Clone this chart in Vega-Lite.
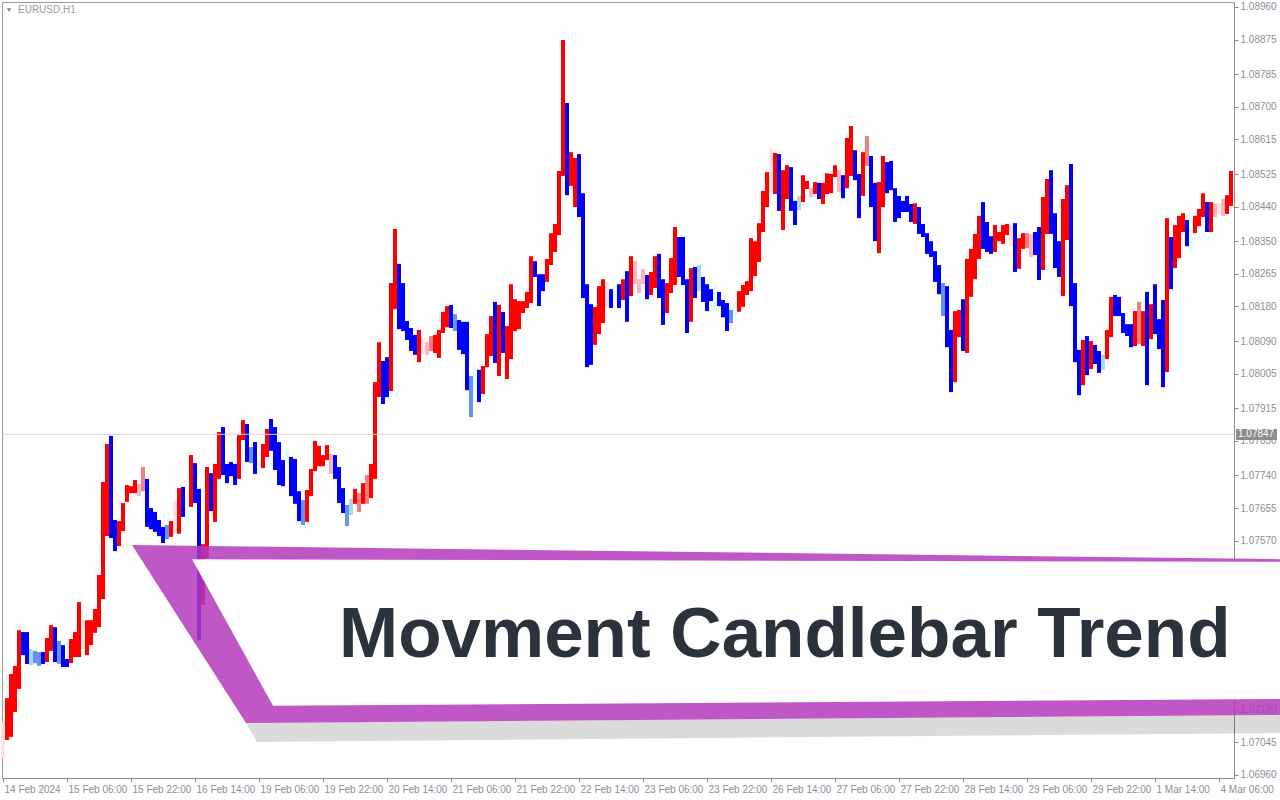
{
  "$schema": "https://vega.github.io/schema/vega-lite/v6.json",
  "width": 1232,
  "height": 776,
  "autosize": "none",
  "padding": {"left": 2, "top": 2, "right": 46, "bottom": 22},
  "background": "#ffffff",
  "resolve": {"axis": {"x": "independent", "y": "independent"}},
  "config": {
    "view": {"stroke": "#9a9a9a", "strokeWidth": 1},
    "axis": {
      "grid": false,
      "domainColor": "#8c8c8c",
      "tickColor": "#8c8c8c",
      "labelColor": "#8e8e9a",
      "labelFont": "Liberation Sans",
      "labelFontSize": 10,
      "tickSize": 4
    }
  },
  "datasets": {
    "bars": [
      {"k":0,"c":"up0","h":1.07098,"l":1.07004},{"k":1,"c":"up3","h":1.07160,"l":1.07051},{"k":2,"c":"up3","h":1.07223,"l":1.07059},{"k":3,"c":"up3","h":1.07244,"l":1.07124},{"k":4,"c":"up3","h":1.07337,"l":1.07184},
      {"k":5,"c":"dn3","h":1.07332,"l":1.07272},{"k":6,"c":"dn3","h":1.07332,"l":1.07249},{"k":7,"c":"dn1","h":1.07288,"l":1.07246},{"k":8,"c":"dn2","h":1.07283,"l":1.07251},{"k":9,"c":"dn2","h":1.07280,"l":1.07244},
      {"k":10,"c":"dn3","h":1.07280,"l":1.07249},{"k":11,"c":"up3","h":1.07317,"l":1.07254},{"k":12,"c":"up3","h":1.07350,"l":1.07283},{"k":13,"c":"dn3","h":1.07345,"l":1.07254},{"k":14,"c":"dn2","h":1.07309,"l":1.07249},
      {"k":15,"c":"dn3","h":1.07298,"l":1.07241},{"k":16,"c":"dn3","h":1.07262,"l":1.07241},{"k":17,"c":"up3","h":1.07314,"l":1.07251},{"k":18,"c":"up3","h":1.07332,"l":1.07267},{"k":19,"c":"up3","h":1.07410,"l":1.07267},
      {"k":20,"c":"up0","h":1.07369,"l":1.07288},{"k":21,"c":"up3","h":1.07363,"l":1.07272},{"k":22,"c":"up3","h":1.07363,"l":1.07298},{"k":23,"c":"up3","h":1.07392,"l":1.07330},{"k":24,"c":"up3","h":1.07481,"l":1.07345},
      {"k":25,"c":"up3","h":1.07723,"l":1.07418},{"k":26,"c":"up3","h":1.07822,"l":1.07582},{"k":27,"c":"dn3","h":1.07843,"l":1.07577},{"k":28,"c":"dn3","h":1.07624,"l":1.07543},{"k":29,"c":"up3","h":1.07621,"l":1.07556},
      {"k":30,"c":"up3","h":1.07668,"l":1.07595},{"k":31,"c":"up3","h":1.07715,"l":1.07671},{"k":32,"c":"up3","h":1.07712,"l":1.07694},{"k":33,"c":"up3","h":1.07728,"l":1.07694},{"k":34,"c":"up1","h":1.07718,"l":1.07686},
      {"k":35,"c":"up2","h":1.07762,"l":1.07699},{"k":36,"c":"dn3","h":1.07731,"l":1.07606},{"k":37,"c":"dn3","h":1.07655,"l":1.07600},{"k":38,"c":"dn3","h":1.07645,"l":1.07593},{"k":39,"c":"dn3","h":1.07624,"l":1.07582},
      {"k":40,"c":"dn3","h":1.07606,"l":1.07564},{"k":41,"c":"dn2","h":1.07611,"l":1.07574},{"k":42,"c":"up3","h":1.07621,"l":1.07580},{"k":43,"c":"up0","h":1.07673,"l":1.07590},{"k":44,"c":"up3","h":1.07707,"l":1.07588},
      {"k":45,"c":"dn3","h":1.07710,"l":1.07632},{"k":46,"c":"dn0","h":1.07686,"l":1.07616},{"k":47,"c":"up3","h":1.07793,"l":1.07658},{"k":48,"c":"dn3","h":1.07772,"l":1.07668},{"k":49,"c":"dn3","h":1.07705,"l":1.07311},
      {"k":50,"c":"up3","h":1.07561,"l":1.07403},{"k":51,"c":"up3","h":1.07762,"l":1.07525},{"k":52,"c":"dn3","h":1.07746,"l":1.07647},{"k":53,"c":"up3","h":1.07770,"l":1.07619},{"k":54,"c":"up3","h":1.07853,"l":1.07731},
      {"k":55,"c":"dn3","h":1.07866,"l":1.07741},{"k":56,"c":"dn3","h":1.07770,"l":1.07720},{"k":57,"c":"dn3","h":1.07775,"l":1.07738},{"k":58,"c":"dn3","h":1.07770,"l":1.07715},{"k":59,"c":"up3","h":1.07845,"l":1.07731},
      {"k":60,"c":"up3","h":1.07884,"l":1.07832},{"k":61,"c":"dn3","h":1.07874,"l":1.07775},{"k":62,"c":"dn2","h":1.07814,"l":1.07772},{"k":63,"c":"dn3","h":1.07827,"l":1.07744},{"k":64,"c":"dn0","h":1.07759,"l":1.07741},
      {"k":65,"c":"up3","h":1.07822,"l":1.07759},{"k":66,"c":"up3","h":1.07861,"l":1.07788},{"k":67,"c":"dn3","h":1.07887,"l":1.07804},{"k":68,"c":"dn3","h":1.07866,"l":1.07754},{"k":69,"c":"dn3","h":1.07827,"l":1.07715},
      {"k":70,"c":"dn3","h":1.07780,"l":1.07712},{"k":71,"c":"dn0","h":1.07811,"l":1.07780},{"k":72,"c":"dn3","h":1.07788,"l":1.07686},{"k":73,"c":"dn3","h":1.07783,"l":1.07666},{"k":74,"c":"dn3","h":1.07699,"l":1.07621},
      {"k":75,"c":"dn2","h":1.07676,"l":1.07611},{"k":76,"c":"up3","h":1.07702,"l":1.07619},{"k":77,"c":"up3","h":1.07757,"l":1.07686},{"k":78,"c":"up3","h":1.07830,"l":1.07751},{"k":79,"c":"up3","h":1.07817,"l":1.07764},
      {"k":80,"c":"up3","h":1.07793,"l":1.07764},{"k":81,"c":"up3","h":1.07819,"l":1.07780},{"k":82,"c":"up1","h":1.07796,"l":1.07744},{"k":83,"c":"dn3","h":1.07793,"l":1.07731},{"k":84,"c":"dn3","h":1.07762,"l":1.07668},
      {"k":85,"c":"dn3","h":1.07707,"l":1.07642},{"k":86,"c":"dn2","h":1.07663,"l":1.07608},{"k":87,"c":"dn1","h":1.07679,"l":1.07637},{"k":88,"c":"up3","h":1.07705,"l":1.07666},{"k":89,"c":"up2","h":1.07694,"l":1.07645},
      {"k":90,"c":"up3","h":1.07720,"l":1.07666},{"k":91,"c":"up2","h":1.07741,"l":1.07666},{"k":92,"c":"up3","h":1.07770,"l":1.07681},{"k":93,"c":"up3","h":1.07983,"l":1.07731},{"k":94,"c":"up3","h":1.08087,"l":1.07944},
      {"k":95,"c":"dn3","h":1.08038,"l":1.07926},{"k":96,"c":"dn3","h":1.08048,"l":1.07944},{"k":97,"c":"up3","h":1.08241,"l":1.07960},{"k":98,"c":"up3","h":1.08382,"l":1.08173},{"k":99,"c":"dn3","h":1.08291,"l":1.08121},
      {"k":100,"c":"dn3","h":1.08241,"l":1.08116},{"k":101,"c":"dn3","h":1.08142,"l":1.08093},{"k":102,"c":"dn3","h":1.08124,"l":1.08064},{"k":103,"c":"dn3","h":1.08106,"l":1.08054},{"k":104,"c":"up3","h":1.08119,"l":1.08035},
      {"k":105,"c":"up0","h":1.08100,"l":1.08056},{"k":106,"c":"up1","h":1.08087,"l":1.08054},{"k":107,"c":"up2","h":1.08103,"l":1.08064},{"k":108,"c":"up3","h":1.08106,"l":1.08059},{"k":109,"c":"up3","h":1.08119,"l":1.08046},
      {"k":110,"c":"up3","h":1.08166,"l":1.08111},{"k":111,"c":"up3","h":1.08181,"l":1.08126},{"k":112,"c":"dn3","h":1.08184,"l":1.08124},{"k":113,"c":"dn2","h":1.08160,"l":1.08116},{"k":114,"c":"dn3","h":1.08145,"l":1.08067},
      {"k":115,"c":"dn3","h":1.08140,"l":1.08056},{"k":116,"c":"dn3","h":1.08140,"l":1.07962},{"k":117,"c":"dn2","h":1.07999,"l":1.07892},{"k":118,"c":"dn0","h":1.08025,"l":1.07955},{"k":119,"c":"dn3","h":1.08015,"l":1.07931},
      {"k":120,"c":"up3","h":1.08025,"l":1.07952},{"k":121,"c":"up3","h":1.08108,"l":1.08022},{"k":122,"c":"up3","h":1.08155,"l":1.08051},{"k":123,"c":"dn3","h":1.08192,"l":1.08033},{"k":124,"c":"up3","h":1.08184,"l":1.07999},
      {"k":125,"c":"dn3","h":1.08166,"l":1.08059},{"k":126,"c":"up3","h":1.08129,"l":1.07991},{"k":127,"c":"up3","h":1.08238,"l":1.08043},{"k":128,"c":"up3","h":1.08199,"l":1.08116},{"k":129,"c":"up3","h":1.08194,"l":1.08121},
      {"k":130,"c":"up3","h":1.08194,"l":1.08163},{"k":131,"c":"up3","h":1.08218,"l":1.08176},{"k":132,"c":"up3","h":1.08311,"l":1.08189},{"k":133,"c":"dn3","h":1.08298,"l":1.08257},{"k":134,"c":"dn3","h":1.08264,"l":1.08181},
      {"k":135,"c":"dn3","h":1.08264,"l":1.08220},{"k":136,"c":"up3","h":1.08304,"l":1.08244},{"k":137,"c":"up3","h":1.08371,"l":1.08288},{"k":138,"c":"up3","h":1.08395,"l":1.08322},{"k":139,"c":"up3","h":1.08533,"l":1.08366},
      {"k":140,"c":"up3","h":1.08874,"l":1.08520},{"k":141,"c":"dn3","h":1.08710,"l":1.08470},{"k":142,"c":"up3","h":1.08582,"l":1.08494},{"k":143,"c":"up3","h":1.08567,"l":1.08439},{"k":144,"c":"dn3","h":1.08577,"l":1.08413},
      {"k":145,"c":"dn3","h":1.08475,"l":1.08202},{"k":146,"c":"dn3","h":1.08238,"l":1.08022},{"k":147,"c":"dn3","h":1.08186,"l":1.08028},{"k":148,"c":"up3","h":1.08179,"l":1.08080},{"k":149,"c":"up3","h":1.08233,"l":1.08108},
      {"k":150,"c":"up3","h":1.08251,"l":1.08137},{"k":151,"c":"up0","h":1.08244,"l":1.08179},{"k":152,"c":"dn3","h":1.08225,"l":1.08176},{"k":153,"c":"dn0","h":1.08236,"l":1.08197},{"k":154,"c":"dn3","h":1.08238,"l":1.08176},
      {"k":155,"c":"up3","h":1.08251,"l":1.08197},{"k":156,"c":"dn3","h":1.08272,"l":1.08140},{"k":157,"c":"up3","h":1.08311,"l":1.08207},{"k":158,"c":"up1","h":1.08298,"l":1.08238},{"k":159,"c":"up1","h":1.08251,"l":1.08215},
      {"k":160,"c":"up1","h":1.08278,"l":1.08238},{"k":161,"c":"dn3","h":1.08262,"l":1.08199},{"k":162,"c":"up3","h":1.08270,"l":1.08210},{"k":163,"c":"up3","h":1.08311,"l":1.08228},{"k":164,"c":"dn3","h":1.08317,"l":1.08202},
      {"k":165,"c":"dn3","h":1.08251,"l":1.08132},{"k":166,"c":"up3","h":1.08241,"l":1.08163},{"k":167,"c":"up3","h":1.08306,"l":1.08215},{"k":168,"c":"up3","h":1.08387,"l":1.08236},{"k":169,"c":"dn3","h":1.08361,"l":1.08257},
      {"k":170,"c":"dn3","h":1.08361,"l":1.08236},{"k":171,"c":"dn3","h":1.08251,"l":1.08111},{"k":172,"c":"up3","h":1.08280,"l":1.08140},{"k":173,"c":"dn3","h":1.08283,"l":1.08202},{"k":174,"c":"dn1","h":1.08288,"l":1.08220},
      {"k":175,"c":"dn3","h":1.08257,"l":1.08192},{"k":176,"c":"dn3","h":1.08238,"l":1.08168},{"k":177,"c":"dn3","h":1.08225,"l":1.08194},{"k":178,"c":"dn0","h":1.08236,"l":1.08168},{"k":179,"c":"dn3","h":1.08218,"l":1.08181},
      {"k":180,"c":"dn3","h":1.08197,"l":1.08152},{"k":181,"c":"dn3","h":1.08189,"l":1.08116},{"k":182,"c":"dn2","h":1.08171,"l":1.08137},{"k":183,"c":"dn0","h":1.08189,"l":1.08150},{"k":184,"c":"up3","h":1.08220,"l":1.08166},
      {"k":185,"c":"up3","h":1.08236,"l":1.08179},{"k":186,"c":"up3","h":1.08246,"l":1.08210},{"k":187,"c":"up3","h":1.08358,"l":1.08220},{"k":188,"c":"up3","h":1.08350,"l":1.08259},{"k":189,"c":"up3","h":1.08397,"l":1.08296},
      {"k":190,"c":"up3","h":1.08481,"l":1.08374},{"k":191,"c":"up3","h":1.08530,"l":1.08439},{"k":192,"c":"up0","h":1.08590,"l":1.08478},{"k":193,"c":"up3","h":1.08580,"l":1.08473},{"k":194,"c":"dn3","h":1.08577,"l":1.08429},
      {"k":195,"c":"up3","h":1.08535,"l":1.08379},{"k":196,"c":"up3","h":1.08548,"l":1.08460},{"k":197,"c":"dn3","h":1.08543,"l":1.08429},{"k":198,"c":"dn3","h":1.08455,"l":1.08392},{"k":199,"c":"dn1","h":1.08468,"l":1.08431},
      {"k":200,"c":"up3","h":1.08522,"l":1.08452},{"k":201,"c":"up3","h":1.08507,"l":1.08486},{"k":202,"c":"up1","h":1.08488,"l":1.08465},{"k":203,"c":"up3","h":1.08504,"l":1.08473},{"k":204,"c":"dn3","h":1.08502,"l":1.08460},
      {"k":205,"c":"up3","h":1.08502,"l":1.08447},{"k":206,"c":"up3","h":1.08527,"l":1.08473},{"k":207,"c":"up3","h":1.08525,"l":1.08475},{"k":208,"c":"up3","h":1.08548,"l":1.08517},{"k":209,"c":"up1","h":1.08535,"l":1.08478},
      {"k":210,"c":"dn3","h":1.08522,"l":1.08462},{"k":211,"c":"up3","h":1.08619,"l":1.08488},{"k":212,"c":"up3","h":1.08650,"l":1.08520},{"k":213,"c":"dn3","h":1.08587,"l":1.08509},{"k":214,"c":"dn3","h":1.08525,"l":1.08410},
      {"k":215,"c":"up3","h":1.08582,"l":1.08468},{"k":216,"c":"up2","h":1.08624,"l":1.08546},{"k":217,"c":"dn3","h":1.08572,"l":1.08439},{"k":218,"c":"dn3","h":1.08502,"l":1.08350},{"k":219,"c":"up3","h":1.08504,"l":1.08319},
      {"k":220,"c":"up3","h":1.08572,"l":1.08439},{"k":221,"c":"dn3","h":1.08556,"l":1.08475},{"k":222,"c":"dn3","h":1.08559,"l":1.08483},{"k":223,"c":"dn3","h":1.08488,"l":1.08400},{"k":224,"c":"dn3","h":1.08468,"l":1.08410},
      {"k":225,"c":"dn3","h":1.08455,"l":1.08426},{"k":226,"c":"dn3","h":1.08468,"l":1.08426},{"k":227,"c":"dn3","h":1.08447,"l":1.08400},{"k":228,"c":"up3","h":1.08449,"l":1.08395},{"k":229,"c":"dn3","h":1.08439,"l":1.08369},
      {"k":230,"c":"dn3","h":1.08395,"l":1.08361},{"k":231,"c":"dn3","h":1.08371,"l":1.08317},{"k":232,"c":"dn3","h":1.08350,"l":1.08309},{"k":233,"c":"dn3","h":1.08324,"l":1.08244},{"k":234,"c":"dn3","h":1.08288,"l":1.08212},
      {"k":235,"c":"dn2","h":1.08241,"l":1.08155},{"k":236,"c":"dn3","h":1.08233,"l":1.08074},{"k":237,"c":"dn3","h":1.08119,"l":1.07957},{"k":238,"c":"up3","h":1.08168,"l":1.07983},{"k":239,"c":"up3","h":1.08171,"l":1.08100},
      {"k":240,"c":"dn3","h":1.08199,"l":1.08064},{"k":241,"c":"up3","h":1.08304,"l":1.08059},{"k":242,"c":"up3","h":1.08330,"l":1.08205},{"k":243,"c":"up3","h":1.08369,"l":1.08251},{"k":244,"c":"up3","h":1.08416,"l":1.08304},
      {"k":245,"c":"dn3","h":1.08452,"l":1.08330},{"k":246,"c":"dn3","h":1.08400,"l":1.08322},{"k":247,"c":"dn3","h":1.08363,"l":1.08317},{"k":248,"c":"up3","h":1.08392,"l":1.08322},{"k":249,"c":"up3","h":1.08374,"l":1.08350},
      {"k":250,"c":"up3","h":1.08392,"l":1.08343},{"k":251,"c":"up3","h":1.08395,"l":1.08366},{"k":252,"c":"up0","h":1.08392,"l":1.08337},{"k":253,"c":"dn3","h":1.08397,"l":1.08270},{"k":254,"c":"up3","h":1.08358,"l":1.08278},
      {"k":255,"c":"up3","h":1.08371,"l":1.08330},{"k":256,"c":"up2","h":1.08371,"l":1.08332},{"k":257,"c":"up1","h":1.08369,"l":1.08309},{"k":258,"c":"dn3","h":1.08374,"l":1.08314},{"k":259,"c":"dn3","h":1.08387,"l":1.08249},
      {"k":260,"c":"up3","h":1.08465,"l":1.08275},{"k":261,"c":"up3","h":1.08512,"l":1.08369},{"k":262,"c":"dn3","h":1.08535,"l":1.08369},{"k":263,"c":"dn3","h":1.08423,"l":1.08280},{"k":264,"c":"dn3","h":1.08350,"l":1.08257},
      {"k":265,"c":"up3","h":1.08460,"l":1.08207},{"k":266,"c":"up3","h":1.08496,"l":1.08353},{"k":267,"c":"dn3","h":1.08551,"l":1.08181},{"k":268,"c":"dn3","h":1.08241,"l":1.08035},{"k":269,"c":"dn3","h":1.08067,"l":1.07949},
      {"k":270,"c":"up3","h":1.08093,"l":1.07975},{"k":271,"c":"dn3","h":1.08103,"l":1.08001},{"k":272,"c":"up3","h":1.08090,"l":1.08017},{"k":273,"c":"dn3","h":1.08080,"l":1.08030},{"k":274,"c":"dn3","h":1.08064,"l":1.08007},
      {"k":275,"c":"dn1","h":1.08054,"l":1.08015},{"k":276,"c":"up3","h":1.08119,"l":1.08043},{"k":277,"c":"up3","h":1.08205,"l":1.08100},{"k":278,"c":"dn3","h":1.08210,"l":1.08155},{"k":279,"c":"dn3","h":1.08205,"l":1.08155},
      {"k":280,"c":"dn3","h":1.08163,"l":1.08111},{"k":281,"c":"dn3","h":1.08134,"l":1.08103},{"k":282,"c":"dn3","h":1.08134,"l":1.08074},{"k":283,"c":"up3","h":1.08168,"l":1.08077},{"k":284,"c":"up2","h":1.08192,"l":1.08082},
      {"k":285,"c":"up3","h":1.08168,"l":1.08077},{"k":286,"c":"dn3","h":1.08218,"l":1.07975},{"k":287,"c":"up3","h":1.08186,"l":1.08095},{"k":288,"c":"dn3","h":1.08238,"l":1.08108},{"k":289,"c":"dn3","h":1.08147,"l":1.08069},
      {"k":290,"c":"dn3","h":1.08197,"l":1.07970},{"k":291,"c":"up3","h":1.08410,"l":1.08009},{"k":292,"c":"dn3","h":1.08361,"l":1.08225},{"k":293,"c":"up3","h":1.08392,"l":1.08280},{"k":294,"c":"up3","h":1.08416,"l":1.08306},
      {"k":295,"c":"up3","h":1.08423,"l":1.08374},{"k":296,"c":"dn3","h":1.08405,"l":1.08337},{"k":297,"c":"dn0","h":1.08389,"l":1.08322},{"k":298,"c":"up3","h":1.08416,"l":1.08371},{"k":299,"c":"up3","h":1.08434,"l":1.08389},
      {"k":300,"c":"up3","h":1.08475,"l":1.08413},{"k":301,"c":"dn3","h":1.08452,"l":1.08374},{"k":302,"c":"up3","h":1.08452,"l":1.08374},{"k":303,"c":"up1","h":1.08449,"l":1.08413},{"k":304,"c":"up0","h":1.08449,"l":1.08421},
      {"k":305,"c":"up1","h":1.08460,"l":1.08416},{"k":306,"c":"up3","h":1.08470,"l":1.08421},{"k":307,"c":"up3","h":1.08533,"l":1.08442}
    ],
    "bannerShadow": [
      {"x":60.75,"top":1.07095,"bottom":1.07095},
      {"x":63.5,"top":1.07096,"bottom":1.07046},
      {"x":319.25,"top":1.07116,"bottom":1.07069}
    ],
    "bannerFrame": [
      {"x":32.25,"top":1.07559,"bottom":1.07559},
      {"x":60.75,"top":1.07555,"bottom":1.07095},
      {"x":319.25,"top":1.07522,"bottom":1.07116}
    ],
    "bannerInner": [
      {"x":47.25,"top":1.07522,"bottom":1.07522},
      {"x":67.5,"top":1.07521,"bottom":1.07140},
      {"x":319.25,"top":1.07515,"bottom":1.07158}
    ]
  },
  "layer": [
    {
      "data": {"name": "bars"},
      "mark": {"type": "rule", "strokeWidth": 4, "strokeCap": "butt"},
      "encoding": {
        "x": {
          "field": "k",
          "type": "quantitative",
          "scale": {"domain": [-0.25, 307.75], "nice": false, "zero": false},
          "axis": {
            "title": null,
            "values": [0,16,32,48,64,80,96,112,128,144,160,176,192,208,224,240,256,272,288,304],
            "labelExpr": "['14 Feb 2024','15 Feb 06:00','15 Feb 22:00','16 Feb 14:00','19 Feb 06:00','19 Feb 22:00','20 Feb 14:00','21 Feb 06:00','21 Feb 22:00','22 Feb 14:00','23 Feb 06:00','23 Feb 22:00','26 Feb 14:00','27 Feb 06:00','27 Feb 22:00','28 Feb 14:00','29 Feb 06:00','29 Feb 22:00','1 Mar 14:00','4 Mar 06:00'][round(datum.value / 16)]",
            "labelAlign": "left",
            "labelBaseline": "top",
            "labelPadding": 2,
            "labelOffset": 1,
            "labelFlush": false,
            "labelOverlap": false,
            "labelBound": false
          }
        },
        "y": {
          "field": "h",
          "type": "quantitative",
          "scale": {"domain": [1.06952, 1.08973], "nice": false, "zero": false},
          "axis": {
            "title": null,
            "orient": "right",
            "values": [1.0696,1.07045,1.0713,1.07215,1.073,1.07385,1.07475,1.0757,1.07655,1.0774,1.0783,1.07915,1.08005,1.0809,1.0818,1.08265,1.0835,1.0844,1.08525,1.08615,1.087,1.08785,1.08875,1.0896],
            "format": ".5f",
            "labelPadding": 2,
            "labelOverlap": false,
            "labelFlush": false,
            "labelBound": false
          }
        },
        "y2": {"field": "l"},
        "color": {
          "field": "c",
          "type": "nominal",
          "scale": {
            "domain": ["up3","up2","up1","up0","dn3","dn2","dn1","dn0"],
            "range": ["#ff0000","#f08080","#ffb6c1","#ffe4e1","#0000ff","#6495ed","#add8e6","#e0ffff"]
          },
          "legend": null
        }
      }
    },
    {
      "data": {"values": [{}]},
      "mark": {"type": "rule", "color": "#d9d9d9", "strokeWidth": 1},
      "encoding": {
        "y": {"datum": 1.07847, "type": "quantitative", "axis": null}
      }
    },
    {
      "data": {"name": "bannerShadow"},
      "mark": {"type": "area", "color": "#000000", "opacity": 0.14, "clip": false},
      "encoding": {
        "x": {"field": "x", "type": "quantitative", "axis": null},
        "y": {"field": "top", "type": "quantitative", "axis": null},
        "y2": {"field": "bottom"}
      }
    },
    {
      "data": {"name": "bannerFrame"},
      "mark": {"type": "area", "color": "#b337bc", "opacity": 0.84, "clip": false},
      "encoding": {
        "x": {"field": "x", "type": "quantitative", "axis": null},
        "y": {"field": "top", "type": "quantitative", "axis": null},
        "y2": {"field": "bottom"}
      }
    },
    {
      "data": {"name": "bannerInner"},
      "mark": {"type": "area", "color": "#ffffff", "opacity": 1, "clip": false},
      "encoding": {
        "x": {"field": "x", "type": "quantitative", "axis": null},
        "y": {"field": "top", "type": "quantitative", "axis": null},
        "y2": {"field": "bottom"}
      }
    },
    {
      "data": {"values": [{}]},
      "mark": {
        "type": "text",
        "text": "Movment Candlebar Trend",
        "font": "Liberation Sans",
        "fontWeight": "bold",
        "fontSize": 71,
        "align": "left",
        "baseline": "alphabetic",
        "color": "#2b323c",
        "clip": false
      },
      "encoding": {
        "x": {"datum": 84, "type": "quantitative", "axis": null},
        "y": {"datum": 1.07267, "type": "quantitative", "axis": null}
      }
    },
    {
      "data": {"values": [{}]},
      "mark": {"type": "rect", "color": "#8c8c8c", "clip": false},
      "encoding": {
        "x": {"datum": 308.25, "type": "quantitative", "axis": null},
        "x2": {"datum": 318.5},
        "y": {"datum": 1.07861, "type": "quantitative", "axis": null},
        "y2": {"datum": 1.07832}
      }
    },
    {
      "data": {"values": [{}]},
      "mark": {
        "type": "text",
        "text": "1.07847",
        "font": "Liberation Sans",
        "fontSize": 10,
        "align": "left",
        "baseline": "middle",
        "color": "#ffffff",
        "clip": false
      },
      "encoding": {
        "x": {"datum": 308.75, "type": "quantitative", "axis": null},
        "y": {"datum": 1.07847, "type": "quantitative", "axis": null}
      }
    },
    {
      "data": {"values": [{}]},
      "mark": {"type": "point", "shape": "triangle-down", "size": 18, "filled": true, "color": "#808080", "opacity": 1},
      "encoding": {
        "x": {"datum": 1.5, "type": "quantitative", "axis": null},
        "y": {"datum": 1.08952, "type": "quantitative", "axis": null}
      }
    },
    {
      "data": {"values": [{}]},
      "mark": {
        "type": "text",
        "text": "EURUSD,H1",
        "font": "Liberation Sans",
        "fontSize": 10,
        "align": "left",
        "baseline": "middle",
        "color": "#9a9aa6"
      },
      "encoding": {
        "x": {"datum": 3.75, "type": "quantitative", "axis": null},
        "y": {"datum": 1.08952, "type": "quantitative", "axis": null}
      }
    }
  ]
}
